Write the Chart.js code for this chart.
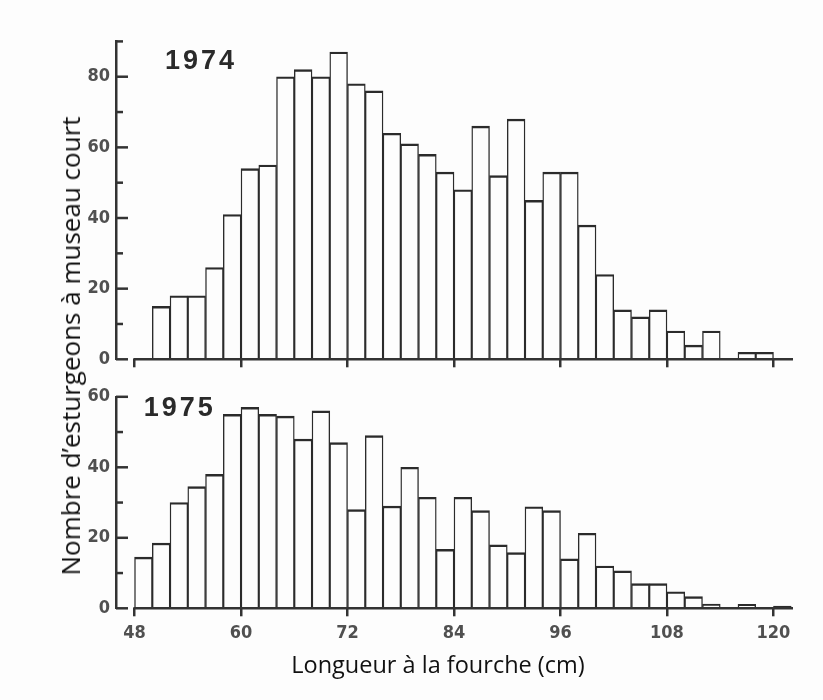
<!DOCTYPE html>
<html><head><meta charset="utf-8">
<script src="https://cdn.jsdelivr.net/npm/chart.js@4"></script>
<style>
html,body{margin:0;padding:0;background:#fdfdfd;}
#wrap{position:relative;width:823px;height:700px;overflow:hidden;background:#fdfdfd;}
.pan{position:absolute;left:0;width:823px;}
#p1{top:0;height:380px;}
#p2{top:380px;height:320px;}
#ytitle{position:absolute;left:70px;top:346px;transform:translate(-50%,-50%) rotate(-90deg);white-space:nowrap;font-family:'Open Sans',sans-serif;font-size:26px;color:#111;}
#xtitle{position:absolute;left:438px;top:664px;transform:translate(-50%,-50%);white-space:nowrap;font-family:'Open Sans',sans-serif;font-size:23.5px;color:#111;}
</style></head><body>
<div id="wrap">
<div class="pan" id="p1"><canvas id="c1"></canvas></div>
<div class="pan" id="p2"><canvas id="c2"></canvas></div>
<div id="ytitle">Nombre d’esturgeons à museau court</div>
<div id="xtitle"></div>
</div>
<script>
// ---- data ----
const bins1974 = [50,52,54,56,58,60,62,64,66,68,70,72,74,76,78,80,82,84,86,88,90,92,94,96,98,100,102,104,106,108,110,112,114,116,118];
const counts1974 = [15,18,18,26,41,54,55,80,82,80,87,78,76,64,61,58,53,48,66,52,68,45,53,53,38,24,14,12,14,8,4,8,null,2,2];
const bins1975 = [48,50,52,54,56,58,60,62,64,66,68,70,72,74,76,78,80,82,84,86,88,90,92,94,96,98,100,102,104,106,108,110,112,114,116,118,120];
const counts1975 = [14.5,18.5,30,34.5,38,55,57,55,54.5,48,56,47,28,49,29,40,31.5,16.7,31.5,27.7,18,15.8,28.8,27.7,14,21.3,12,10.6,7,7,4.7,3.3,1.2,null,1.1,null,0.6];
const binWidth = 2;
const xTicks = [48,60,72,84,96,108,120];
const yTicks1974 = [0,10,20,30,40,50,60,70,80,90];
const yLabels1974 = [0,20,40,60,80];
const yTicks1975 = [0,10,20,30,40,50,60];
const yLabels1975 = [0,20,40,60];
const yearLabels = ['1974','1975'];
const xTitle = 'Longueur à la fourche (cm)';
document.getElementById('xtitle').textContent = xTitle;

const INK = '#333';
const tickFont = {family:"'Liberation Sans Narrow','DejaVu Sans Condensed','Liberation Sans',sans-serif", size:18, weight:'bold'};
const tickColor = '#505050';

const axesPlugin = {
  id:'axesPlugin',
  afterDatasetsDraw(chart, args, o){
    const {ctx, chartArea:a, scales:{x, y}} = chart;
    ctx.save();
    ctx.strokeStyle = INK; ctx.lineCap='butt';
    ctx.lineWidth = 2.5;
    const y0 = y.getPixelForValue(0);
    ctx.beginPath(); ctx.moveTo(x.getPixelForValue(xTicks[0]) - 1.2, y0); ctx.lineTo(a.right, y0); ctx.stroke();
    o.yTicks.forEach(v => {
      const py = y.getPixelForValue(v);
      const len = o.yLabels.includes(v) ? 12 : 7;
      ctx.beginPath(); ctx.moveTo(a.left, py); ctx.lineTo(a.left + len, py); ctx.stroke();
    });
    ctx.fillStyle = '#2a2a2a';
    ctx.font = 'bold 27px "Liberation Sans", sans-serif';
    try { ctx.letterSpacing = '3px'; } catch(e) {}
    ctx.textAlign = 'center'; ctx.textBaseline = 'middle';
    ctx.fillText(o.year, x.getPixelForValue(o.yearAt[0]), y.getPixelForValue(o.yearAt[1]));
    ctx.restore();
  }
};

function panel(id, bins, counts, yTicks, yLabels, year, cfg){
  const data = bins.map((b,i)=>({x:b+binWidth/2, y:counts[i]})).filter(d=>d.y!==null);
  return new Chart(document.getElementById(id), {
    type:'bar',
    data:{datasets:[{data, backgroundColor:'#fdfdfd', borderColor:'#2b2b2b',
      borderWidth:{top:2.4,left:1.4,right:1.4,bottom:0}, borderSkipped:'bottom',
      barPercentage:1, categoryPercentage:1}]},
    options:{
      responsive:true, maintainAspectRatio:false, animation:false,
      layout:{padding:{left:0,right:cfg.padRight,top:cfg.padTop,bottom:cfg.padBottom}},
      plugins:{legend:{display:false}, tooltip:{enabled:false},
        axesPlugin:{yTicks, yLabels, year, yearAt:cfg.yearAt}},
      scales:{
        x:{type:'linear', min:cfg.xMin, max:cfg.xMax, offset:false,
          afterBuildTicks:s=>{s.ticks = xTicks.map(v=>({value:v}));},
          afterFit:s=>{s.height = cfg.xH;},
          ticks:{display:cfg.showX, autoSkip:false, maxRotation:0, font:tickFont, color:tickColor, padding:6},
          grid:{display:true, offset:false, drawOnChartArea:false, drawTicks:true, tickLength:8, lineWidth:2.5, color:INK},
          border:{display:false}
        },
        y:{min:0, max:yTicks[yTicks.length-1],
          afterBuildTicks:s=>{s.ticks = yTicks.map(v=>({value:v}));},
          afterFit:s=>{s.width = 116;},
          ticks:{font:tickFont, color:tickColor, padding:6, callback:v=>yLabels.includes(v)?String(v):''},
          grid:{display:false, drawTicks:false},
          border:{display:true, color:INK, width:2.5}
        }
      }
    },
    plugins:[axesPlugin]
  });
}

panel('c1', bins1974, counts1974, yTicks1974, yLabels1974, yearLabels[0],
  {padRight:30, padTop:41.4, padBottom:0, xH:20.7, xMin:45.91, xMax:122.2, showX:false, yearAt:[55.5,84.2]});
panel('c2', bins1975, counts1975, yTicks1975, yLabels1975, yearLabels[1],
  {padRight:30, padTop:15, padBottom:23, xH:68.7, xMin:45.91, xMax:122.2, showX:true, yearAt:[53.1,56.7]});
</script>
</body></html>
